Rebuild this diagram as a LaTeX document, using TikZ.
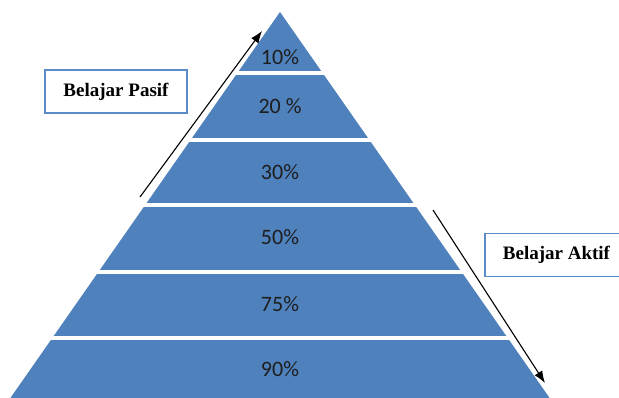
\documentclass[tikz,border=0pt]{standalone}
\usepackage{fontspec}
\setmainfont{Liberation Serif}
\newfontfamily\pctfont{Carlito}
\usetikzlibrary{arrows.meta}
\usetikzlibrary{positioning}

\definecolor{pyrblue}{HTML}{4F81BD}
\definecolor{boxline}{HTML}{5B8BC8}
\definecolor{pcttext}{HTML}{1E1E1E}

\begin{document}
\begin{tikzpicture}[x=1pt,y=-1pt]
			\tikzset{level/.style = {font=\pctfont\fontsize{22}{24}\selectfont, text=pcttext, inner sep=0pt}}
			\tikzset{labelbox/.style = {draw=boxline, line width=1.3pt, fill=white,
					font=\bfseries\fontsize{19}{21}\selectfont,
					minimum height=43pt, inner sep=0pt}}
			\tikzset{edge/.style = {-{Latex[length=12pt,width=9pt]}, line width=1.1pt}}
			\tikzset{gap/.style = {white, line width=4pt}}
			
			\useasboundingbox (0,0) rectangle (619,398);
			\clip (0,0) rectangle (619,398);
			
			% pyramid
			\fill[pyrblue] (280,12) -- (558,410) -- (2,410) -- cycle;
			\foreach \y in {73,140,205.5,272,338}
				\draw[gap] (0,\y) -- (619,\y);
			
			% levels
			\node[level] (l1) at (280,57) {10\%};
			\node[level] (l2) at (280,106) {20 \%};
			\node[level] (l3) at (280,172) {30\%};
			\node[level] (l4) at (280,237) {50\%};
			\node[level] (l5) at (280,304) {75\%};
			\node[level] (l6) at (280,369) {90\%};
			
			% labels
			\node[labelbox, minimum width=142pt] (pasif) at (116,91.5) {Belajar Pasif};
			\node[labelbox, minimum width=143pt] (aktif) at (556.5,255) {Belajar Aktif};
			
			%edges
			\coordinate (pasifA) at (140,197);
			\coordinate (pasifB) at (262,31);
			\coordinate (aktifA) at (433,210);
			\coordinate (aktifB) at (545,383);
			
			\draw[edge] (pasifA) to (pasifB);
			\draw[edge] (aktifA) to (aktifB);
			
\end{tikzpicture}
\end{document}
